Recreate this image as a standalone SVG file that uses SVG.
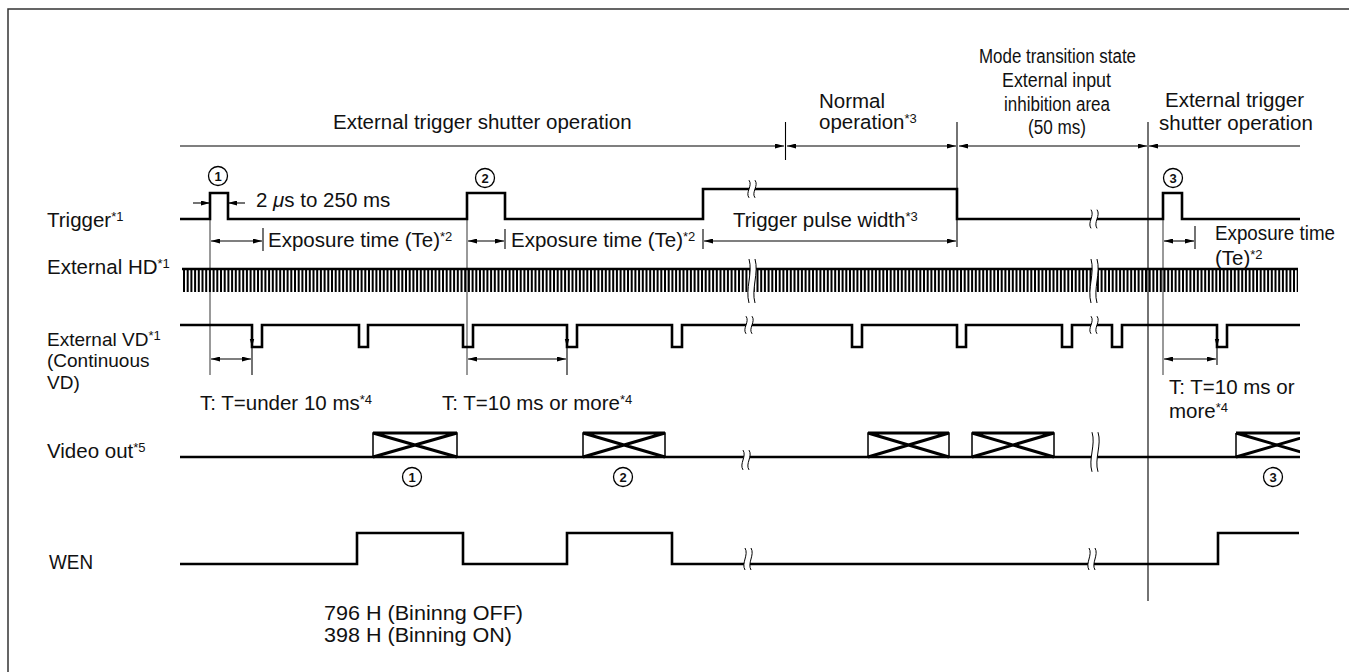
<svg xmlns="http://www.w3.org/2000/svg" xmlns:xlink="http://www.w3.org/1999/xlink" width="1349" height="672" viewBox="0 0 1349 672">
<style>
text{font-family:"Liberation Sans",Arial,Helvetica,sans-serif;font-size:20.5px;fill:#111}
.sup{font-size:13px}
.nar{font-size:19.5px}
.vd{font-size:19px}
.sig{fill:none;stroke:#000;stroke-width:2.6;stroke-linejoin:miter}
.dim{fill:none;stroke:#000;stroke-width:1.1}
.ref{fill:none;stroke:#555;stroke-width:1.2}
.cn{font-size:13px;font-weight:bold;text-anchor:middle}
.cc{fill:none;stroke:#000;stroke-width:1.3}
.box{fill:none;stroke:#000;stroke-width:1.5}
.x{stroke:#000;stroke-width:3;fill:none}
</style>
<defs>
<marker id="ah" viewBox="0 0 9 5" refX="9" refY="2.5" markerWidth="9" markerHeight="5" markerUnits="userSpaceOnUse" orient="auto-start-reverse"><path d="M0,0 L9,2.5 L0,5 Z" fill="#000"/></marker>
<g id="brk">
<path d="M-3,-11 C1,-4 -7,4 -3,11 L3,11 C-1,4 7,-4 3,-11 Z" fill="#fff"/>
<path d="M-3,-11 C1,-4 -7,4 -3,11 M3,-11 C7,-4 -1,4 3,11" fill="none" stroke="#000" stroke-width="1" vector-effect="non-scaling-stroke"/>
</g>
<clipPath id="clipR"><rect x="0" y="0" width="1300" height="672"/></clipPath>
</defs>
<rect width="1349" height="672" fill="#fff"/>
<path d="M8,672 V9 H1349" fill="none" stroke="#333" stroke-width="1.5"/>

<g id="header">
<text x="333" y="129">External trigger shutter operation</text>
<text x="819" y="108">Normal</text>
<text x="819" y="129">operation<tspan class="sup" dy="-6">*3</tspan></text>
<text class="nar" x="979" y="63" textLength="157" lengthAdjust="spacingAndGlyphs">Mode transition state</text>
<text class="nar" x="1002" y="87" textLength="109" lengthAdjust="spacingAndGlyphs">External input</text>
<text class="nar" x="1004" y="111" textLength="106" lengthAdjust="spacingAndGlyphs">inhibition area</text>
<text class="nar" x="1028" y="134" textLength="58" lengthAdjust="spacingAndGlyphs">(50 ms)</text>
<text x="1165" y="107">External trigger</text>
<text x="1159" y="130">shutter operation</text>
</g>

<g id="labels">
<text x="47" y="227">Trigger<tspan class="sup" dy="-6">*1</tspan></text>
<text x="47" y="274">External HD<tspan class="sup" dy="-6">*1</tspan></text>
<text class="vd" x="47" y="345.5">External VD<tspan class="sup" dy="-6">*1</tspan></text>
<text class="vd" x="47" y="367">(Continuous</text>
<text class="vd" x="47" y="388.5">VD)</text>
<text x="47" y="458">Video out<tspan class="sup" dy="-6">*5</tspan></text>
<text class="nar" x="49" y="569" textLength="44" lengthAdjust="spacingAndGlyphs">WEN</text>
</g>

<g id="connectors">
<path class="dim" d="M180,146 H784" marker-end="url(#ah)"/>
<path class="dim" d="M785.5,122 V160"/>
<path class="dim" d="M787,146 H956" marker-start="url(#ah)" marker-end="url(#ah)"/>
<path class="dim" d="M957,122 V247"/>
<path class="dim" d="M959,146 H1147" marker-start="url(#ah)" marker-end="url(#ah)"/>
<path class="dim" d="M1148,122 V601"/>
<path class="dim" d="M1149,146 H1300" marker-start="url(#ah)"/>
<path class="dim" d="M193,203 H210" marker-end="url(#ah)"/>
<path class="dim" d="M245,203 H228" marker-end="url(#ah)"/>
<path class="ref" d="M210,219 V375"/>
<path class="dim" d="M211,241 H262" marker-start="url(#ah)" marker-end="url(#ah)"/>
<path class="dim" d="M263,228 V251"/>
<path class="ref" d="M467,219 V375"/>
<path class="dim" d="M468,241 H504" marker-start="url(#ah)" marker-end="url(#ah)"/>
<path class="dim" d="M505,229 V249"/>
<path class="dim" d="M703,229 V249"/>
<path class="dim" d="M704,241 H956" marker-start="url(#ah)" marker-end="url(#ah)"/>
<path class="ref" d="M1163,219 V375"/>
<path class="dim" d="M1164,241 H1194" marker-start="url(#ah)" marker-end="url(#ah)"/>
<path class="dim" d="M1195,226 V249"/>
<path class="dim" d="M252,347 V375"/>
<path d="M249.8,339 L254.2,339 L252,347 Z"/>
<path class="dim" d="M211,359 H251" marker-start="url(#ah)" marker-end="url(#ah)"/>
<path class="dim" d="M567,347 V375"/>
<path d="M564.8,339 L569.2,339 L567,347 Z"/>
<path class="dim" d="M468,359 H566" marker-start="url(#ah)" marker-end="url(#ah)"/>
<path class="dim" d="M1217,347 V365"/>
<path d="M1214.8,339 L1219.2,339 L1217,347 Z"/>
<path class="dim" d="M1164,359 H1216" marker-start="url(#ah)" marker-end="url(#ah)"/>
</g>

<g id="dim-labels">
<text x="256" y="207">2 <tspan font-style="italic">μ</tspan>s to 250 ms</text>
<text x="268" y="247">Exposure time (Te)<tspan class="sup" dy="-6">*2</tspan></text>
<text x="511" y="247">Exposure time (Te)<tspan class="sup" dy="-6">*2</tspan></text>
<text x="733" y="227">Trigger pulse width<tspan class="sup" dy="-6">*3</tspan></text>
<text x="1215" y="240" textLength="120" lengthAdjust="spacingAndGlyphs">Exposure time</text>
<text x="1215" y="265">(Te)<tspan class="sup" dy="-6">*2</tspan></text>
<text x="200" y="410">T: T=under 10 ms<tspan class="sup" dy="-6">*4</tspan></text>
<text x="442" y="410">T: T=10 ms or more<tspan class="sup" dy="-6">*4</tspan></text>
<text x="1169" y="394">T: T=10 ms or</text>
<text x="1169" y="418">more<tspan class="sup" dy="-6">*4</tspan></text>
<text class="nar" x="324" y="620" textLength="199" lengthAdjust="spacingAndGlyphs">796 H (Bininng OFF)</text>
<text class="nar" x="324" y="642" textLength="188" lengthAdjust="spacingAndGlyphs">398 H (Binning ON)</text>
</g>

<g id="trigger">
<path class="sig" d="M180,219 H210 V193 H228 V219 H467 V193 H505 V219 H703 V189 H957 V219 H1163 V193 H1182 V219 H1300"/>
<use xlink:href="#brk" transform="translate(752,189) scale(1,0.8)"/>
<use xlink:href="#brk" transform="translate(1094,219) scale(1,0.85)"/>
<circle class="cc" cx="218" cy="176" r="9.5"/><text class="cn" x="218" y="180.5">1</text>
<circle class="cc" cx="485" cy="178" r="9.5"/><text class="cn" x="485" y="182.5">2</text>
<circle class="cc" cx="1173" cy="178" r="9.5"/><text class="cn" x="1173" y="182.5">3</text>
</g>

<g id="ext-hd">
<path class="sig" d="M182,269 H1298"/>
<path d="M183,280.5 H1298" stroke="#000" stroke-width="23" stroke-dasharray="2 1.7" fill="none"/>
<use xlink:href="#brk" transform="translate(752,281) scale(1,2)"/>
<use xlink:href="#brk" transform="translate(1094,281) scale(1,2)"/>
</g>

<g id="ext-vd">
<path class="sig" d="M180,325 H252 V347 H262 V325 H359 V347 H368 V325 H463 V347 H473 V325 H567 V347 H577 V325 H672 V347 H682 V325 H852 V347 H862 V325 H957 V347 H966 V325 H1062 V347 H1072 V325 H1112 V347 H1122 V325 H1217 V347 H1227 V325 H1300"/>
<use xlink:href="#brk" transform="translate(749,325) scale(1,0.8)"/>
<use xlink:href="#brk" transform="translate(1094,325) scale(1,0.8)"/>
</g>

<g id="video-out">
<path class="sig" d="M180,457 H1300"/>
<g id="frame1"><rect class="box" x="373" y="433" width="84" height="24"/><path class="x" d="M373,433 H457 M373,433 L457,457 M373,457 L457,433"/></g>
<g id="frame2"><rect class="box" x="583" y="433" width="82" height="24"/><path class="x" d="M583,433 H665 M583,433 L665,457 M583,457 L665,433"/></g>
<g id="frame3"><rect class="box" x="868" y="433" width="81" height="24"/><path class="x" d="M868,433 H949 M868,433 L949,457 M868,457 L949,433"/></g>
<g id="frame4"><rect class="box" x="972" y="433" width="82" height="24"/><path class="x" d="M972,433 H1054 M972,433 L1054,457 M972,457 L1054,433"/></g>
<g id="frame5" clip-path="url(#clipR)"><path class="box" d="M1236,433 V457"/><path class="x" d="M1236,433 H1318 M1236,433 L1318,457 M1236,457 L1318,433"/></g>
<use xlink:href="#brk" transform="translate(746,460) scale(1,0.9)"/>
<use xlink:href="#brk" transform="translate(1095,452) scale(1,1.8)"/>
<circle class="cc" cx="412" cy="477" r="9.5"/><text class="cn" x="412" y="481.5">1</text>
<circle class="cc" cx="623" cy="477" r="9.5"/><text class="cn" x="623" y="481.5">2</text>
<circle class="cc" cx="1273" cy="477" r="9.5"/><text class="cn" x="1273" y="481.5">3</text>
</g>

<g id="wen">
<path class="sig" d="M180,564 H357 V533 H463 V564 H567 V533 H672 V564 H1218 V533 H1299"/>
<use xlink:href="#brk" transform="translate(748,559) scale(1,1)"/>
<use xlink:href="#brk" transform="translate(1092,559) scale(1,1)"/>
</g>
</svg>
